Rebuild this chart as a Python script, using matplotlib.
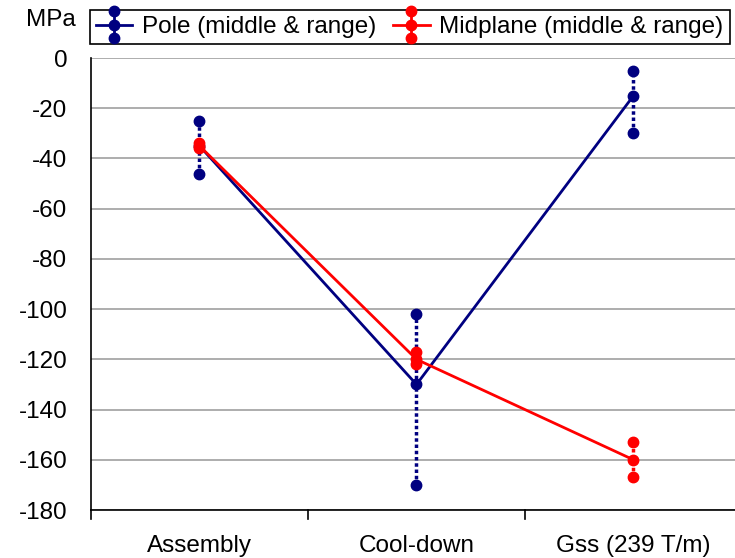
import matplotlib
matplotlib.use("Agg")
import matplotlib.pyplot as plt
from matplotlib.legend_handler import HandlerBase
from matplotlib.lines import Line2D

plt.rcParams["font.family"] = ["Liberation Sans", "DejaVu Sans"]
plt.rcParams["axes.unicode_minus"] = False

stages = ["Assembly", "Cool-down", "Gss (239 T/m)"]
pole_mid = [-35, -130, -15]
pole_hi = [-25, -102, -5]
pole_lo = [-46, -170, -30]
mid_mid = [-35, -120, -160]
mid_hi = [-34, -117, -153]
mid_lo = [-36, -122, -167]

NAVY = "#000080"
RED = "#ff0000"


class RangeHandler(HandlerBase):
    # horizontal line + vertical range with three dots, like the original legend key
    def create_artists(self, legend, orig, xd, yd, w, h, fontsize, trans):
        c = orig.get_color()
        cx, cy = w / 2 - xd, h / 2 - yd
        off = h * 0.78
        hl = Line2D([-xd, w - xd], [cy, cy], color=c, lw=2, transform=trans)
        vl = Line2D([cx, cx], [cy - off, cy + off], color=c, lw=2, transform=trans)
        dots = Line2D([cx, cx, cx], [cy - off, cy, cy + off], ls="none", marker="o",
                      ms=7.5, color=c, transform=trans)
        return [hl, vl, dots]


fig = plt.figure(figsize=(7.35, 5.58), dpi=100)
ax = fig.add_axes([0.1238, 0.086, 0.8857, 0.81])
x = range(len(stages))

for xi, lo, hi, m in zip(x, pole_lo, pole_hi, pole_mid):
    ax.plot([xi, xi], [lo, hi], color=NAVY, lw=2.5, ls=(0, (1, 0.8)), zorder=3)
    ax.plot([xi, xi, xi], [lo, m, hi], ls="none", marker="o", ms=7.5, color=NAVY, zorder=4)
ax.plot(x, pole_mid, color=NAVY, lw=2, zorder=4)

for xi, lo, hi, m in zip(x, mid_lo, mid_hi, mid_mid):
    ax.plot([xi, xi], [lo, hi], color=RED, lw=2.5, ls=(0, (1, 0.8)), zorder=5)
    ax.plot([xi, xi, xi], [lo, m, hi], ls="none", marker="o", ms=7.5, color=RED, zorder=6)
ax.plot(x, mid_mid, color=RED, lw=2, zorder=6)

ax.set_xlim(-0.5, 2.5)
ax.set_ylim(-180, 0)
ax.set_yticks(range(-180, 1, 20))
ax.set_xticks(list(x))
ax.set_xticklabels(stages)
ax.tick_params(axis="x", length=0, pad=18, labelsize=17.5)
ax.tick_params(axis="y", length=0, labelsize=17.5, pad=17)
ax.grid(axis="y", color="#a0a0a0", lw=1.2)
ax.set_axisbelow(True)
for s in ["top", "right"]:
    ax.spines[s].set_visible(False)
ax.spines["left"].set_linewidth(1.2)
ax.spines["bottom"].set_linewidth(1.2)
# category separator ticks below the axis
for xt in [-0.5, 0.5, 1.5, 2.5]:
    ax.plot([xt, xt], [-180, -183.5], color="black", lw=1.2, clip_on=False)

fig.text(0.069, 0.965, "MPa", fontsize=17.5, ha="center", va="center")

h1 = Line2D([], [], color=NAVY)
h2 = Line2D([], [], color=RED)
leg = fig.legend([h1, h2], ["Pole (middle & range)", "Midplane (middle & range)"],
                 handler_map={Line2D: RangeHandler()}, ncol=2, loc="upper left",
                 bbox_to_anchor=(0.122, 0.982), fontsize=17.5, fancybox=False,
                 framealpha=1, edgecolor="black", handlelength=1.5, handletextpad=0.4,
                 columnspacing=0.7, borderpad=0.25, borderaxespad=0)
leg.get_frame().set_linewidth(1.2)

fig.savefig("out.png", dpi=100)
